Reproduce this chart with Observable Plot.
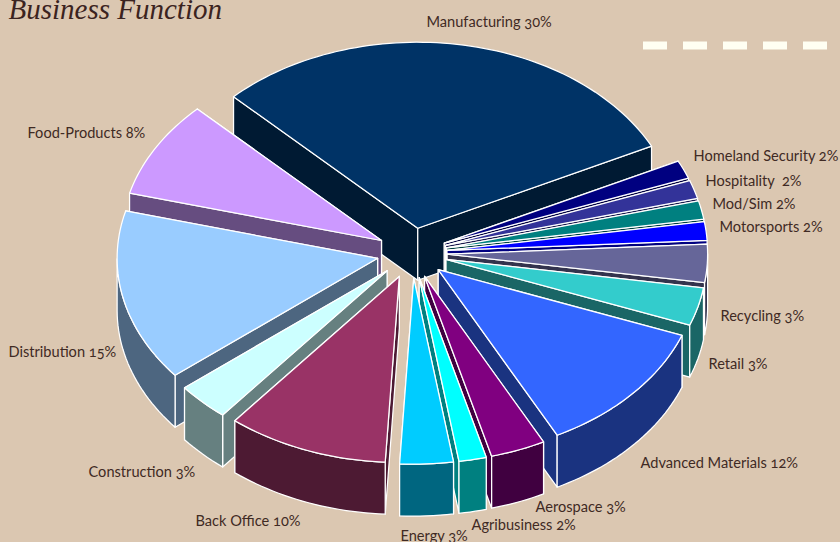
<!DOCTYPE html>
<html>
<head>
<meta charset="utf-8">
<script src="https://cdn.jsdelivr.net/npm/d3@7"></script>
<script src="https://cdn.jsdelivr.net/npm/@observablehq/plot@0.6"></script>
<style>
html,body{margin:0;padding:0;background:#dbc7b1;overflow:hidden}
svg{display:block}
</style>
</head>
<body>
<div id="chart"></div>
<script>
// Data, clockwise from Manufacturing
const names = ["Manufacturing","Homeland Security","Hospitality ","Mod/Sim","Motorsports","Recycling","Retail","Advanced Materials","Aerospace","Agribusiness","Energy","Back Office","Construction","Distribution","Food-Products"];
const labelPercents = [30,2,2,2,2,3,3,12,3,2,3,10,3,15,8];
const shares = [30.2,1.6,1.6,1.6,1.6,3.3,3.3,11.7,3.4,1.7,3.3,10.0,3.3,14.9,8.4];
const colors = ["#003366","#000080","#333399","#008080","#0000ff","#666699","#33cccc","#3366ff","#800080","#00ffff","#00ccff","#993366","#ccffff","#99ccff","#cc99ff"];

// Layout of the tilted, exploded pie
const cx = 411.5, cy = 252.5, rx = 260.5, ry = 186, depth = 52, explode = 0.135, startDeg = -135;
const labelAt = [[426,22],[693,156],[705,181],[712,204],[719,227],[720,316],[708,364],[640,463],[535,507],[471,525],[400,536],[195,521],[88,472],[8,352],[27,133]];

const total = d3.sum(shares);
const rad = d => d * Math.PI / 180;
let acc = startDeg;
const slices = shares.map((s, i) => {
  const a0 = acc, a1 = acc + s / total * 360;
  acc = a1;
  const mid = rad((a0 + a1) / 2);
  const ax = cx + explode * rx * Math.cos(mid), ay = cy + explode * ry * Math.sin(mid);
  const arc = [];
  const n = Math.max(4, Math.ceil((a1 - a0) / 1.5));
  for (let k = 0; k <= n; k++) {
    const t = rad(a0 + (a1 - a0) * k / n);
    arc.push({x: ax + rx * Math.cos(t), y: ay + ry * Math.sin(t), t});
  }
  return {i, ax, ay, arc, mid, color: colors[i]};
});

const darker = c => { const r = d3.rgb(c); return d3.rgb(r.r / 2, r.g / 2, r.b / 2).formatHex(); };
const poly = (pts, fill) => Plot.line([...pts, pts[0]], {x: "x", y: "y", fill, stroke: "#ffffff", strokeWidth: 1.25, curve: "linear", strokeLinejoin: "round"});

const marks = [];
slices.slice().sort((a, b) => Math.sin(a.mid) - Math.sin(b.mid)).forEach(s => {
  const wall = darker(s.color);
  const apex = {x: s.ax, y: s.ay};
  const down = p => ({x: p.x, y: p.y + depth});
  const first = s.arc[0], last = s.arc[s.arc.length - 1];
  // the radial wall further back goes first so the nearer one covers it
  [first, last].sort((a, b) => a.y - b.y).forEach(p => marks.push(poly([apex, p, down(p), down(apex)], wall)));
  const front = s.arc.filter(p => Math.sin(p.t) > -0.02);
  if (front.length > 1) marks.push(poly([...front, ...front.slice().reverse().map(down)], wall));
  marks.push(poly([apex, ...s.arc], s.color));
});

const labels = names.map((n, i) => ({text: `${n} ${labelPercents[i]}%`, x: labelAt[i][0], y: labelAt[i][1]}));

const plot = Plot.plot({
  width: 840, height: 542, margin: 0,
  style: {background: "#dbc7b1"},
  x: {domain: [0, 840], range: [0, 840], axis: null},
  y: {domain: [0, 542], range: [0, 542], axis: null},
  marks: [
    ...marks,
    Plot.ruleY([45], {x1: 643, x2: 827, stroke: "#fffff2", strokeWidth: 8, strokeDasharray: "24 16"}),
    Plot.text(labels, {x: "x", y: "y", text: "text", textAnchor: "start", fontSize: 14.6, fontFamily: "Lato", fontVariant: "oldstyle-nums", fill: "#3f2a24"}),
    Plot.text(["Business Function"], {x: 8, y: 9, textAnchor: "start", fontSize: 29, fontStyle: "italic", fontFamily: "Liberation Serif", fill: "#3b2320"})
  ]
});
document.getElementById("chart").append(plot);
</script>
</body>
</html>
